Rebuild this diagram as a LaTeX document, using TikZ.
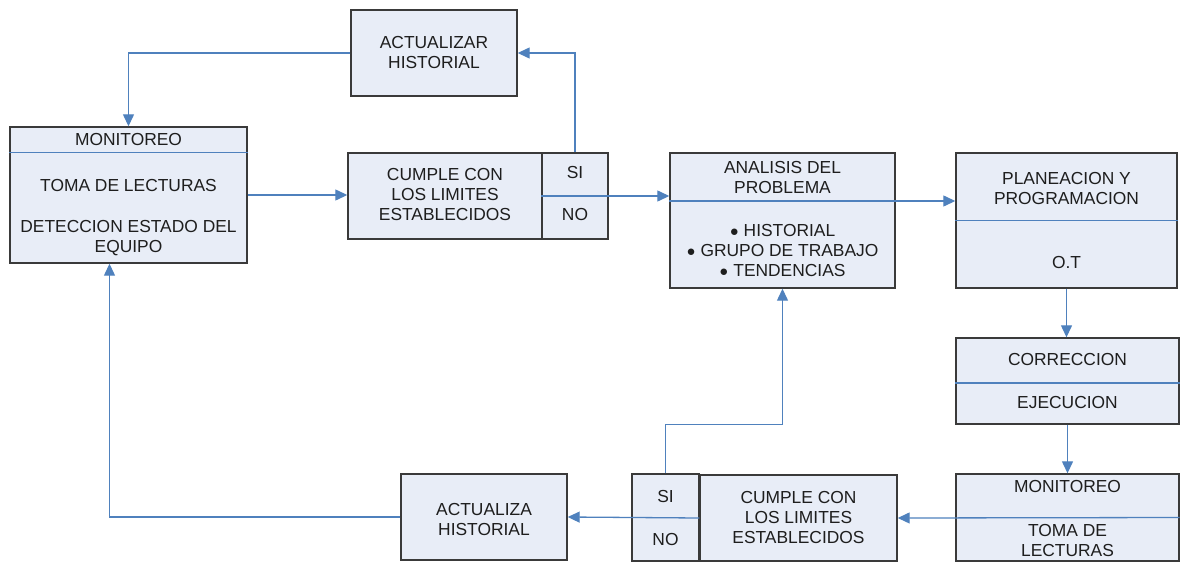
\documentclass[tikz,border=0pt]{standalone}
\usepackage{fontspec}
\setmainfont{Liberation Sans}
\usetikzlibrary{arrows.meta}
\definecolor{boxfill}{HTML}{E8EDF7}
\definecolor{boxline}{HTML}{3A3A3A}
\definecolor{conn}{HTML}{4F81BD}
\definecolor{txt}{HTML}{1E1E1E}
\newcommand{\bul}{{\fontsize{15}{20}\selectfont\raisebox{0.5pt}{●}}}
\tikzset{
  box/.style={draw=boxline, fill=boxfill, line width=1.4pt, inner sep=0pt},
  lbl/.style={text=txt, font=\fontsize{17.4}{20}\selectfont, align=center, inner sep=0pt},
  conline/.style={draw=conn, line width=1.3pt},
  arr/.style={conline, -{Triangle[length=12pt,width=11pt]}},
}
\begin{document}
\begin{tikzpicture}[x=1pt,y=-1pt]
\useasboundingbox (0,0) rectangle (1180,562);
% boxes
\node[box, minimum width=166pt, minimum height=86pt] (act1) at (434,53) {};
\node[box, minimum width=237pt, minimum height=136pt] (mon1) at (128.5,195) {};
\node[box, minimum width=194pt, minimum height=86pt] (cum1) at (445,196) {};
\node[box, minimum width=66pt, minimum height=86pt] (sino1) at (575,196) {};
\node[box, minimum width=225pt, minimum height=135pt] (ana) at (782.5,220.5) {};
\node[box, minimum width=221pt, minimum height=135pt] (pla) at (1066.5,220.5) {};
\node[box, minimum width=223pt, minimum height=86pt] (cor) at (1067.5,381) {};
\node[box, minimum width=223pt, minimum height=87pt] (mon2) at (1067.5,517.5) {};
\node[box, minimum width=197pt, minimum height=86pt] (cum2) at (798.5,518) {};
\node[box, minimum width=67pt, minimum height=87pt] (sino2) at (665.5,517.5) {};
\node[box, minimum width=166pt, minimum height=86pt] (act2) at (484,517) {};
% dividers
\draw[conline] ([yshift=-26pt]mon1.north west) -- ([yshift=-26pt]mon1.north east);
\draw[conline] (pla.west) -- (pla.east);
\draw[conline] ([yshift=-2pt]cor.west) -- ([yshift=-2pt]cor.east);
% texts
\node[lbl] (t1) at (434,53) {ACTUALIZAR\\HISTORIAL};
\node[lbl] (t2) at (128.5,140) {MONITOREO};
\node[lbl] (t3) at (128.5,186) {TOMA DE LECTURAS};
\node[lbl] (t4) at (128.5,238) {DETECCION ESTADO DEL\\EQUIPO};
\node[lbl] (t5) at (445,195) {CUMPLE CON\\LOS LIMITES\\ESTABLECIDOS};
\node[lbl] (t6) at (575,173) {SI};
\node[lbl] (t7) at (575,215) {NO};
\node[lbl] (t8) at (782.5,178) {ANALISIS DEL\\PROBLEMA};
\node[lbl] (t9) at (782.5,251) {\bul{} HISTORIAL\\\bul{} GRUPO DE TRABAJO\\\bul{} TENDENCIAS};
\node[lbl] (t10) at (1066.5,189) {PLANEACION Y\\PROGRAMACION};
\node[lbl] (t11) at (1066.5,263) {O.T};
\node[lbl] (t12) at (1067.5,360) {CORRECCION};
\node[lbl] (t13) at (1067.5,403) {EJECUCION};
\node[lbl] (t14) at (1067.5,487) {MONITOREO};
\node[lbl] (t15) at (1067.5,541) {TOMA DE\\LECTURAS};
\node[lbl] (t16) at (798.5,518) {CUMPLE CON\\LOS LIMITES\\ESTABLECIDOS};
\node[lbl] (t17) at (665.5,497) {SI};
\node[lbl] (t18) at (665.5,540) {NO};
\node[lbl] (t19) at (484,520) {ACTUALIZA\\HISTORIAL};
% connectors
\draw[arr] (mon1.east) -- (mon1.east -| cum1.west);
\draw[arr] (sino1.west) -- (sino1.west -| ana.west);
\draw[arr] (sino1.north) |- (act1.east);
\draw[arr] (act1.west) -| (mon1.north);
\draw[arr] ([yshift=19.5pt]ana.west) -- ([yshift=19.5pt]ana.west -| pla.west);
\draw[arr] (pla.south) -- (pla.south |- cor.north);
\draw[arr] (cor.south) -- (cor.south |- mon2.north);
\draw[arr] (mon2.east) -- (cum2.east);
\draw[arr] (cum2.west) -- (act2.east);
\draw[arr] (sino2.north) -- ++(0,-49) -| (ana.south);
\draw[arr] (act2.west) -| ([xshift=-19pt]mon1.south);
\end{tikzpicture}
\end{document}
